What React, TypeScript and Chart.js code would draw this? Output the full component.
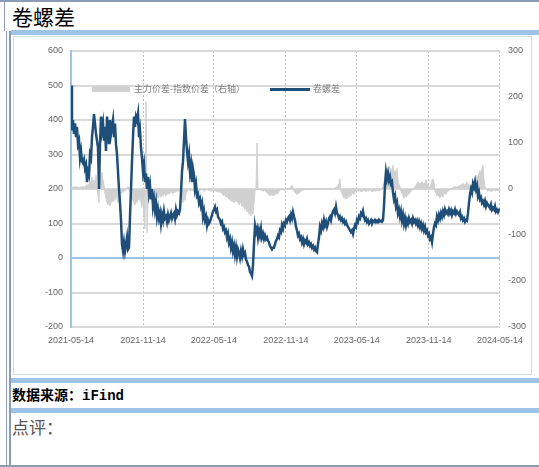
import React, { useEffect, useRef } from "react";
import { Chart, registerables } from "chart.js";

Chart.register(...registerables);

const title = "卷螺差";
const sourceText = "数据来源：iFind";
const commentText = "点评：";
const lineLabel = "卷螺差";
const gapLabel = "主力价差-指数价差（右轴）";

const tickLabels = ["2021-05-14", "2021-11-14", "2022-05-14", "2022-11-14", "2023-05-14", "2023-11-14", "2024-05-14"];
const leftTicks = [-200, -100, 0, 100, 200, 300, 400, 500, 600];
const rightTicks = [-300, -200, -100, 0, 100, 200, 300];

// 卷螺差 (left axis), evenly sampled from 2021-05-14 to 2024-05-14
const spreadValues = [
  500, 370, 400, 360, 390, 350, 380, 330, 340, 290,
  310, 280, 275, 285, 260, 270, 220, 250, 240, 300,
  290, 350, 380, 417, 390, 360, 340, 320, 200, 330,
  410, 370, 390, 340, 380, 310, 410, 380, 330, 400,
  360, 380, 400, 350, 390, 330, 300, 250, 200, 160,
  110, 40, 20, 45, 20, 40, 60, 25, 30, 120,
  200, 280, 350, 410, 380, 410, 400, 418, 350, 370,
  320, 290, 250, 270, 220, 245, 200, 235, 190, 210,
  170, 200, 150, 170, 140, 160, 120, 140, 115, 130,
  100, 125, 110, 135, 115, 120, 105, 125, 110, 120,
  130, 115, 125, 130, 115, 140, 125, 135, 130, 140,
  190, 250, 280, 340, 403, 350, 310, 280, 300, 250,
  270, 220, 258, 240, 200, 215, 180, 185, 160, 170,
  150, 160, 120, 135, 110, 120, 95, 110, 100, 105,
  115, 125, 135, 140, 148, 135, 140, 120, 115, 110,
  100, 105, 85, 90, 75, 80, 60, 70, 45, 55,
  30, 45, 20, 35, 10, 30, 5, 25, 15, 0,
  20, 5, 25, 10, 15, -5, -10, -20, -25, -40,
  -45, -52, -20, 40, 93, 75, 85, 60, 80, 65,
  85, 60, 70, 55, 65, 55, 60, 50, 45, 35,
  30, 25, 30, 30, 40, 50, 55, 65, 60, 80,
  75, 95, 85, 100, 95, 110, 105, 115, 120, 110,
  125, 115, 133, 120, 110, 90, 80, 65, 70, 55,
  60, 45, 55, 40, 50, 45, 55, 40, 45, 35,
  40, 30, 35, 25, 30, 20, 17, 40, 60, 90,
  80, 100, 90, 110, 95, 105, 90, 100, 115, 120,
  110, 125, 135, 140, 130, 148, 130, 125, 115, 120,
  110, 115, 105, 110, 100, 105, 95, 90, 85, 80,
  75, 80, 70, 85, 95, 90, 110, 105, 120, 115,
  130, 125, 136, 120, 110, 115, 105, 110, 100, 105,
  110, 100, 108, 105, 110, 104, 108, 104, 110, 106,
  108, 105, 110, 150, 210, 249, 230, 245, 225, 235,
  215, 220, 190, 170, 180, 150, 160, 130, 140, 120,
  135, 110, 125, 100, 115, 95, 110, 100, 115, 105,
  110, 100, 115, 105, 110, 100, 108, 95, 105, 90,
  100, 85, 95, 80, 90, 75, 80, 65, 70, 55,
  60, 46, 70, 90, 100, 95, 120, 110, 125, 115,
  130, 120, 135, 125, 140, 130, 135, 128, 140, 130,
  138, 125, 135, 130, 140, 128, 135, 130, 125, 133,
  115, 120, 110, 115, 105, 110, 108, 130, 160, 185,
  200, 190, 215, 205, 220, 200, 210, 180, 190, 170,
  175, 160, 165, 155, 165, 150, 160, 155, 150, 145,
  155, 140, 145, 140, 150, 135, 140, 133, 140, 142,
];

// 主力价差-指数价差 (right axis), same sampling
const gapValues = [
  3, 5, 2, 4, 6, 3, 5, 4, 2, 3,
  5, 4, 6, 3, 5, 8, 10, 5, 12, 15,
  15, 25, 10, 20, 8, 30, 12, -15, -30, 35,
  15, 37, 20, 10, -10, -20, -30, -35, -25, -37,
  -30, -20, -28, -15, -25, -10, -20, -30, -15, -25,
  -10, -5, -8, -3, -5, 0, 3, 5, 2, -5,
  -10, -20, -25, -30, -35, -25, -30, -20, -25, -15,
  -30, -40, -20, -60, -87, 190, -95, -30, -20, -15,
  -22, -15, -20, -12, -18, -10, -15, -20, -15, -12,
  -18, -10, -15, -12, -8, -15, -10, -12, -8, -10,
  -5, -8, -10, -5, -8, -4, -6, -3, -5, -3,
  -10, -20, -30, -15, -25, -10, -5, -3, 0, -3,
  -5, -2, -4, -6, -3, -5, -2, -4, -3, -5,
  0, -2, -3, -5, -3, -2, 0, -3, -2, -4,
  -5, -3, -2, -4, -3, -5, -6, -4, -8, -5,
  -8, -10, -12, -15, -10, -18, -15, -20, -22, -25,
  -20, -28, -25, -30, -22, -28, -25, -30, -35, -28,
  -32, -38, -30, -40, -45, -38, -50, -45, -55, -50,
  -58, -45, -55, -30, -5, -2, 100, 0, -2, 0,
  -3, -2, -5, -3, -4, -6, -8, -10, -12, -15,
  -10, -14, -12, -15, -10, -12, -8, -10, -5, -3,
  0, -2, 0, -3, -2, 0, -2, 2, 0, 3,
  5, 8, 4, -5, -8, -10, -12, -8, -10, -6,
  -5, -3, -2, 0, -2, -1, 0, -2, 0, -1,
  0, 2, 0, -1, 1, 0, -2, 0, 1, -1,
  0, 2, 0, -1, 0, 1, 0, -2, 0, 1,
  -1, 0, 2, 0, 3, 2, 5, 8, 12, 22,
  -5, -10, -15, -20, -18, -22, -20, -15, -18, -12,
  -15, -10, -8, -12, -6, -4, -3, -4, -5, -3,
  -6, -4, -5, -3, -4, -6, -3, -5, -4, -3,
  -5, -4, -6, -3, -4, -5, -3, -2, -4, -3,
  -2, 0, 5, 15, 30, 40, 45, 35, 50, 40,
  45, 30, 52, 35, 40, 25, 45, 20, 10, 5,
  -5, -10, -15, -20, -12, -18, -15, -10, -12, -8,
  -5, -3, 0, 3, 5, 8, 12, 15, 10, 14,
  12, 16, 13, 10, 15, 20, 12, 8, 5, 2,
  10, 18, 22, 15, -5, -10, -15, -12, -18, -20,
  -15, -12, -18, -10, -8, -12, -6, -5, -3, -2,
  0, 2, 3, 5, 4, 6, 3, 5, 8, 6,
  10, 8, 12, 10, 8, 12, 15, 10, 6, 8,
  5, 10, 15, 12, 20, 25, 30, 22, 35, 40,
  30, 45, 52, 20, 5, 0, -3, -5, -2, -4,
  -6, -3, -5, -2, -3, -5, -2, -3, -4, -2,
];

const DAY = 86400000;
const dayOf = (s: string) => {
  const [y, m, d] = s.split("-").map(Number);
  return Date.UTC(y, m - 1, d) / DAY;
};
const START = dayOf(tickLabels[0]);
const TOTAL = dayOf(tickLabels[tickLabels.length - 1]) - START;
const tickDays = tickLabels.map((t) => dayOf(t) - START);
const SAMPLES = spreadValues.length;
const toPoints = (vals: number[]) =>
  vals.map((v, i) => ({ x: (i * TOTAL) / (SAMPLES - 1), y: v }));

const BLUE = "#1F4E79";
const GRAY_AREA = "#D0D0D0";
const GRID = "#D9D9D9";
const ZERO = "#9DC3E6";
const TICK_COLOR = "#666666";
const tickFont = { family: "'Liberation Sans', Arial, sans-serif", size: 9 };

function ChartCanvas() {
  const ref = useRef<HTMLCanvasElement | null>(null);
  useEffect(() => {
    if (!ref.current) return;
    const chart = new Chart(ref.current, {
      type: "line",
      data: {
        datasets: [
          {
            label: lineLabel,
            data: toPoints(spreadValues),
            yAxisID: "y",
            borderColor: BLUE,
            borderWidth: 2.5,
            pointRadius: 0,
            fill: false,
            tension: 0,
            order: 0,
          },
          {
            label: gapLabel,
            data: toPoints(gapValues),
            yAxisID: "y2",
            borderColor: GRAY_AREA,
            backgroundColor: GRAY_AREA,
            borderWidth: 1,
            pointRadius: 0,
            fill: "origin",
            tension: 0,
            order: 1,
          },
        ],
      },
      options: {
        animation: false,
        responsive: false,
        maintainAspectRatio: false,
        devicePixelRatio: 1,
        layout: { padding: { top: 14, left: 0, right: 0, bottom: 0 } },
        plugins: { legend: { display: false }, tooltip: { enabled: false } },
        scales: {
          x: {
            type: "linear",
            min: 0,
            max: TOTAL,
            afterBuildTicks: (s: any) => {
              s.ticks = tickDays.map((v) => ({ value: v }));
            },
            afterFit: (s: any) => {
              s.height = 46;
            },
            ticks: {
              autoSkip: false,
              maxRotation: 0,
              padding: 8,
              color: TICK_COLOR,
              font: tickFont,
              callback: (_v: any, i: number) => tickLabels[i],
            },
            grid: { color: "#BFBFBF", lineWidth: 1, drawTicks: false },
            border: { display: false, dash: [2, 2] },
          },
          y: {
            position: "left",
            min: -200,
            max: 600,
            afterBuildTicks: (s: any) => {
              s.ticks = leftTicks.map((v) => ({ value: v }));
            },
            afterFit: (s: any) => {
              s.width = 57;
            },
            ticks: { padding: 8, color: TICK_COLOR, font: tickFont },
            grid: {
              drawTicks: false,
              lineWidth: 2,
              color: (ctx: any) => (ctx.tick && ctx.tick.value === 0 ? ZERO : GRID),
            },
            border: { display: true, color: ZERO, width: 2 },
          },
          y2: {
            position: "right",
            min: -300,
            max: 300,
            afterBuildTicks: (s: any) => {
              s.ticks = rightTicks.map((v) => ({ value: v }));
            },
            afterFit: (s: any) => {
              s.width = 31;
            },
            ticks: { padding: 8, color: TICK_COLOR, font: tickFont },
            grid: { drawOnChartArea: false, drawTicks: false },
            border: { display: false },
          },
        },
      },
    } as any);
    return () => chart.destroy();
  }, []);
  return (
    <canvas
      ref={ref}
      width={517}
      height={336}
      style={{ position: "absolute", left: 14, top: 37, width: 517, height: 336 }}
    />
  );
}

const abs = (s: React.CSSProperties): React.CSSProperties => ({ position: "absolute", ...s });
const FRAME = "#8A9BB5";
const BAND = "#9DC3E6";
const cjk = "'Noto Sans CJK SC', 'Noto Sans', sans-serif";

export default function App() {
  return (
    <div style={abs({ position: "fixed", left: 0, top: 0, width: 539, height: 467, background: "#fff", overflow: "hidden" })}>
      <div style={abs({ left: 0, top: 0, width: 539, height: 2, background: FRAME })} />
      <div style={abs({ left: 4, top: 0, width: 1, height: 31, background: FRAME })} />
      <div style={abs({ left: 6, top: 31, width: 1, height: 436, background: FRAME })} />
      <div style={abs({ left: 9, top: 31, width: 2, height: 436, background: FRAME })} />
      <div style={abs({ left: 12, top: 4, fontFamily: cjk, fontSize: 21, lineHeight: "24px", color: "#000" })}>{title}</div>
      <div style={abs({ left: 11, top: 30, width: 528, height: 5, background: BAND })} />
      <div style={abs({ left: 13, top: 36, width: 517, height: 337, border: "1px solid #D5DBD5", background: "#fff" })} />
      <ChartCanvas />
      <div style={abs({ left: 92, top: 86, width: 38, height: 6, background: GRAY_AREA })} />
      <div style={abs({ left: 134, top: 83, fontFamily: cjk, fontSize: 9, lineHeight: "12px", color: "#808080", whiteSpace: "nowrap" })}>{gapLabel}</div>
      <div style={abs({ left: 270, top: 88, width: 40, height: 3, background: BLUE })} />
      <div style={abs({ left: 313, top: 83, fontFamily: cjk, fontSize: 9, lineHeight: "12px", color: "#808080", whiteSpace: "nowrap" })}>{lineLabel}</div>
      <div style={abs({ left: 11, top: 378, width: 528, height: 5, background: BAND })} />
      <div style={abs({ left: 12, top: 387, fontFamily: "'Liberation Mono', " + cjk, fontWeight: 700, fontSize: 14, lineHeight: "18px", color: "#000", whiteSpace: "nowrap" })}>{sourceText}</div>
      <div style={abs({ left: 11, top: 408, width: 528, height: 5, background: BAND })} />
      <div style={abs({ left: 12, top: 416, fontFamily: cjk, fontSize: 17, lineHeight: "22px", color: "#555", whiteSpace: "nowrap" })}>{commentText}</div>
      <div style={abs({ left: 0, top: 465, width: 539, height: 2, background: FRAME })} />
    </div>
  );
}
